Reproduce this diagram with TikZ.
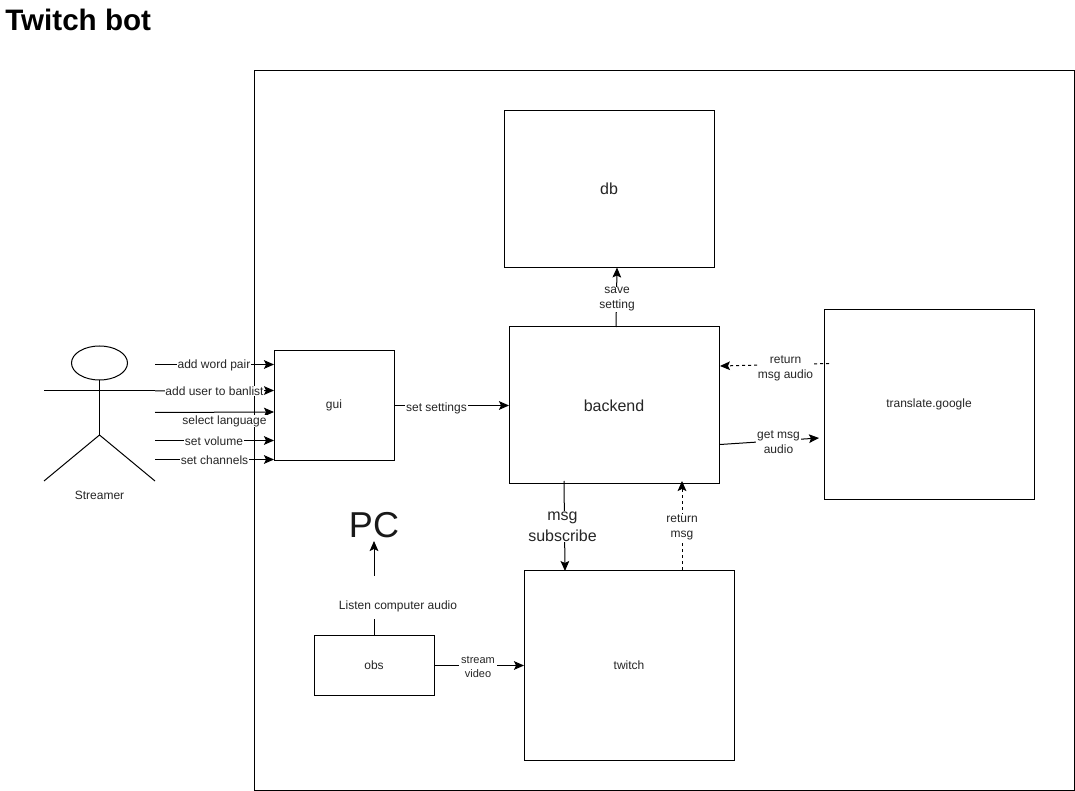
\documentclass[tikz,border=0pt]{standalone}
\usepackage{fontspec}
\setmainfont{Liberation Sans}
\usetikzlibrary{arrows.meta,shapes.geometric}
\newcommand{\dropt}[1]{\raisebox{-1pt}{#1}}
\tikzset{
  px/.style={x=0.75pt,y=-0.75pt},
  boxn/.style={draw=black,line width=0.75pt,inner sep=0pt,text=black!85,font=\fontsize{9pt}{11pt}\selectfont},
  bigbox/.style={boxn,font=\fontsize{12pt}{14pt}\selectfont},
  conn/.style={line width=0.75pt,-{Stealth[length=7.5pt,width=6.5pt,inset=1.5pt]}},
  dashconn/.style={conn,dash pattern=on 2.25pt off 2.25pt},
  lbl/.style={fill=white,inner sep=0.6pt,font=\fontsize{9pt}{11.25pt}\selectfont,align=center,text=black!85},
  smalllbl/.style={lbl,font=\fontsize{8.25pt}{10.5pt}\selectfont},
  biglbl/.style={lbl,font=\fontsize{12pt}{15.75pt}\selectfont},
  plain/.style={inner sep=0pt,font=\fontsize{9pt}{11pt}\selectfont,align=center,text=black!85},
  limb/.style={line width=0.75pt}
}
\begin{document}
\begin{tikzpicture}[px]
\useasboundingbox (0,0) rectangle (1075,791);
\fill[white] (0,0) rectangle (1075,791);
\node[anchor=base west,inner sep=0pt,font=\fontsize{22.2pt}{26pt}\selectfont\bfseries] (title) at (5,30.5) {Twitch bot};
% frame
\node[boxn,minimum width=615pt,minimum height=539.25pt] (frame) at (664,430.5) {};
% boxes
\node[bigbox,minimum width=157.5pt,minimum height=117.75pt] (db) at (609,189) {\dropt{db}};
\node[bigbox,minimum width=157.5pt,minimum height=117.75pt] (backend) at (614,405.5) {backend};
\node[boxn,minimum width=157.5pt,minimum height=142.5pt] (translate) at (929,404.5) {\raisebox{-1.75pt}{translate.google}};
\node[boxn,minimum width=90pt,minimum height=82.5pt] (gui) at (334,405.5) {\dropt{gui}};
\node[boxn,minimum width=90pt,minimum height=45pt] (obs) at (374,665.5) {\dropt{obs}};
\node[boxn,minimum width=157.5pt,minimum height=142.5pt] (twitch) at (629,665.5) {\dropt{twitch}};
\node[inner sep=0pt,font=\fontsize{27pt}{30pt}\selectfont,text=black!90] (pc) at (374,525) {PC};
% stick figure
\node[draw=black,line width=0.75pt,ellipse,inner sep=0pt,minimum width=42pt,minimum height=25.5pt] (head) at (99.5,363) {};
\coordinate (hip) at (99.5,435);
\coordinate (armL) at (44,391);
\coordinate (armR) at (155,391);
\coordinate (legL) at (44,481);
\coordinate (legR) at (155,481);
\draw[limb] (head.south) -- (hip);
\draw[limb] (armL) -- (armR);
\draw[limb] (legL) -- (hip) -- (legR);
\node[plain] (streamer) at (99.5,495) {Streamer};
% actor connectors
\coordinate (s1) at (155,364.5); \coordinate (g1) at (274,364.5);
\coordinate (s2) at (155,391); \coordinate (g2) at (274,390.5);
\coordinate (s3) at (155,412.5); \coordinate (g3) at (274,412);
\coordinate (s4) at (155,440.5); \coordinate (g4) at (274,440.5);
\coordinate (s5) at (155,459.5); \coordinate (g5) at (274,459.5);
\draw[conn] (s1) -- (g1);
\draw[conn] (s2) -- (g2);
\draw[conn] (s3) -- (g3);
\draw[conn] (s4) -- (g4);
\draw[conn] (s5) -- (g5);
\node[lbl] (l1) at (214,365) {add word pair};
\node[lbl] (l2) at (214.5,391) {add user to banlist};
\node[lbl] (l3) at (224.5,421) {select language};
\node[lbl] (l4) at (214,441) {set volume};
\node[lbl] (l5) at (214.5,460) {set channels};
% main connectors
\coordinate (g6) at (394,405.5); \coordinate (b6) at (509,405.5);
\draw[conn] (g6) -- (b6);
\node[lbl] (l6) at (436.5,408) {set settings};
\coordinate (b7) at (616,327); \coordinate (d7) at (617,267.5);
\draw[conn] (b7) -- (d7);
\node[lbl] (l7) at (617,299.5) {save\\setting};
\coordinate (t8) at (829,363.5); \coordinate (b8) at (720,366);
\draw[dashconn] (t8) -- (b8);
\node[lbl,inner xsep=0pt] (l8) at (785.5,368) {return\\msg audio};
\coordinate (b9) at (720,444.5); \coordinate (t9) at (819,438);
\draw[conn] (b9) -- (t9);
\node[lbl] (l9) at (778.5,442) {get msg\\audio};
\coordinate (b10) at (564,481); \coordinate (t10) at (565,571);
\draw[conn] (b10) -- (t10);
\node[biglbl] (l10) at (562.5,526.5) {msg\\subscribe};
\coordinate (t11) at (682,570); \coordinate (b11) at (682,481);
\draw[dashconn] (t11) -- (b11);
\node[lbl] (l11) at (682,527) {return\\msg};
\coordinate (o12) at (374,635); \coordinate (p12) at (374,541);
\draw[conn] (o12) -- (p12);
\node[lbl,anchor=south,inner ysep=5.25pt,text height=19.75pt,text depth=2pt] (l12) at (398,619) {Listen computer audio};
\coordinate (o13) at (434,665.5); \coordinate (t13) at (524,665.5);
\draw[conn] (o13) -- (t13);
\node[smalllbl,inner xsep=2pt] (l13) at (478,666.5) {stream\\video};
\end{tikzpicture}
\end{document}
